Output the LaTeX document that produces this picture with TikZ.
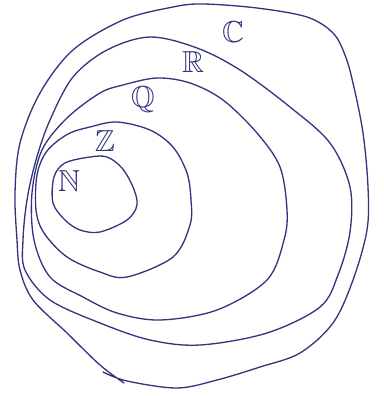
\documentclass[tikz,border=0pt]{standalone}
\usepackage{amssymb}
\usetikzlibrary{positioning}
\definecolor{cInk}{HTML}{34347E}
\tikzset{
  setcurve/.style={draw=cInk, line width=0.75pt, line cap=round, line join=round},
  setlabel/.style={text=cInk, font=\LARGE, inner sep=1pt},
}
\begin{document}
\begin{tikzpicture}[x=0.02cm, y=-0.02cm]
  \useasboundingbox (0,0) rectangle (383,396);

  % Complex numbers (open stroke, ends cross at bottom left)
  \draw[setcurve] plot[smooth, tension=0.55] coordinates {
    (103,372) (127,381) (177,388) (217,380) (260,367) (300,353) (333,323)
    (353,280) (367,230) (368,187) (363,133) (353,83) (345,55) (333,33)
    (307,17) (257,8) (203,4) (173,7) (123,20) (73,50) (40,93) (20,143)
    (15,193) (17,240) (20,270) (33,300) (67,333) (100,365) (124,383)};

  % Real numbers
  \draw[setcurve] plot[smooth cycle, tension=0.55] coordinates {
    (73,77) (107,50) (150,37) (197,48) (240,70) (290,107) (330,143)
    (350,187) (350,232) (338,275) (320,307) (267,333) (200,345) (150,340)
    (100,323) (50,300) (25,270) (23,240) (27,200) (36,160) (50,120)};

  % Rationals
  \draw[setcurve] plot[smooth cycle, tension=0.55] coordinates {
    (100,93) (123,85) (157,78) (190,83) (223,100) (257,133) (280,167)
    (287,210) (284,240) (267,280) (217,310) (160,320) (117,313) (83,297)
    (50,277) (34,240) (32,193) (42,150) (67,118)};

  % Integers
  \draw[setcurve] plot[smooth cycle, tension=0.55] coordinates {
    (90,127) (117,122) (150,130) (173,147) (187,173) (191,200) (190,225)
    (173,257) (127,277) (100,272) (67,257) (44,233) (36,210) (37,175)
    (47,151) (68,134)};

  % Naturals
  \draw[setcurve] plot[smooth cycle, tension=0.55] coordinates {
    (90,157) (107,157) (122,168) (133,187) (137,205) (127,220) (100,232)
    (80,230) (65,220) (53,203) (54,177) (65,163)};

  % Labels
  \node[setlabel] (lblC) at (233,32) {$\mathbb{C}$};
  \node[setlabel] (lblR) at (193,62) {$\mathbb{R}$};
  \node[setlabel] (lblQ) at (143,100) {$\mathbb{Q}$};
  \node[setlabel] (lblZ) at (105,141) {$\mathbb{Z}$};
  \node[setlabel] (lblN) at (69,181) {$\mathbb{N}$};

\end{tikzpicture}
\end{document}
